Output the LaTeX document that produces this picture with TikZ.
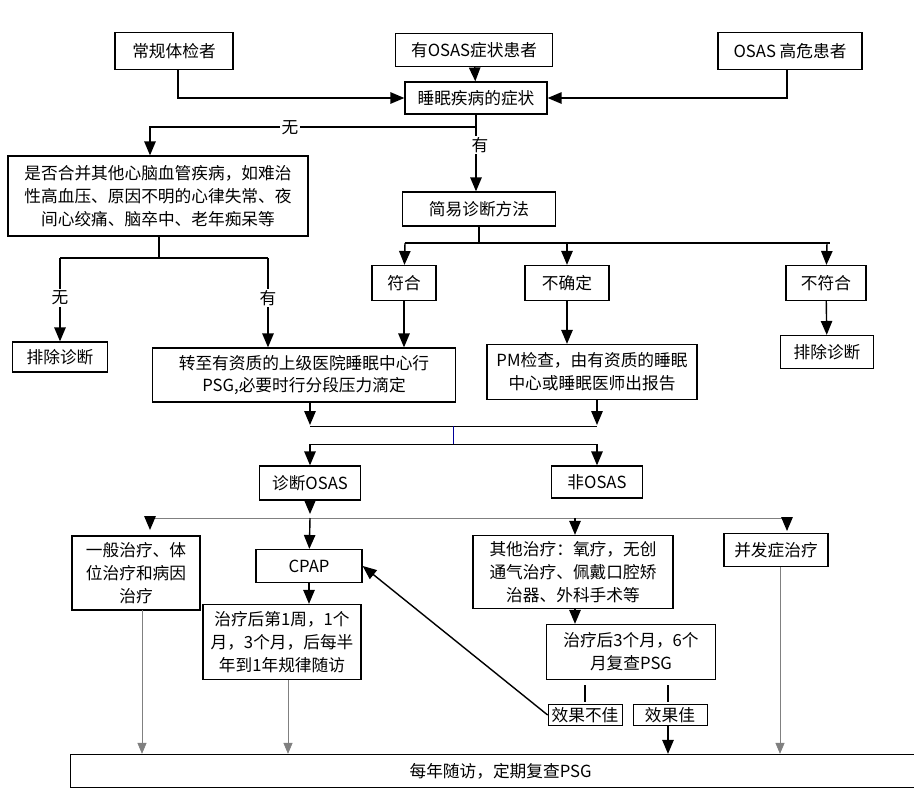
\documentclass[tikz,border=0pt]{standalone}
\usepackage{fontspec}
\setmainfont{Liberation Serif}
\newfontfamily\cjk{Noto Sans CJK SC}
\XeTeXlinebreaklocale "zh"
\XeTeXlinebreakskip=0pt plus 1pt
\usepackage{tikz}
\usetikzlibrary{arrows,positioning}

\begin{document}
\begin{tikzpicture}[x=0.02cm, y=-0.02cm, >=triangle 45, thick, font=\cjk\fontsize{9.5}{13}\selectfont]
    \tikzstyle{box}=[draw, rectangle, inner sep=2pt, align=center]
    \tikzstyle{thin box}=[draw, rectangle, inner sep=1pt, align=center, thin]
    \tikzstyle{gray line}=[draw=gray, thin]
    \tikzstyle{lbl}=[fill=white, inner sep=1pt]

    \useasboundingbox (0,0) rectangle (914,809);

    % top
    \node[box, minimum width=2.36cm, minimum height=0.74cm] (routine) at (174,51) {常规体检者};
    \node[box, minimum width=3.14cm, minimum height=0.66cm] (sympt) at (474,50) {有OSAS症状患者};
    \node[box, minimum width=2.88cm, minimum height=0.74cm] (risk) at (790,51) {OSAS 高危患者};
    \node[box, minimum width=2.84cm, minimum height=0.64cm] (sleep) at (476,98) {睡眠疾病的症状};

    \draw[->] (sympt) -- (sleep);
    \draw[->] (routine.south) ++(4,0) |- (sleep.west);
    \draw[->] (risk.south) ++(-3,0) |- (sleep.east);

    % first decision
    \node[box, minimum width=6cm, minimum height=1.6cm] (disease) at (158,196) {是否合并其他心脑血管疾病，如难治\\性高血压、原因不明的心律失常、夜\\间心绞痛、脑卒中、老年痴呆等};
    \node[box, minimum width=3.06cm, minimum height=0.68cm] (simple) at (479,209) {简易诊断方法};
    \coordinate (split1) at (476,127);
    \draw (sleep) -- (split1);
    \draw[->] (split1) -- (150,127) -- (disease.north -| 150,0);
    \node[lbl] at (290,128) {无};
    \draw[->] (split1) -- (simple.north -| split1);
    \node[lbl] at (480,145) {有};

    % left branch
    \node[box, minimum width=1.9cm, minimum height=0.6cm] (excl1) at (60,357) {排除诊断};
    \node[box, minimum width=6.06cm, minimum height=1.08cm] (refer) at (304,375) {转至有资质的上级医院睡眠中心行\\PSG,必要时行分段压力滴定};
    \draw (disease.south -| 159,0) -- (159,258);
    \draw[->] (60,258) -- (excl1);
    \draw[->] (268,258) -- (refer.north -| 268,0);
    \draw (60,258) -- (268,258);
    \node[lbl] at (60,298) {无};
    \node[lbl] at (268,298) {有};

    % simple diagnosis results
    \node[box, minimum width=1.28cm, minimum height=0.7cm] (fit) at (404,283) {符合};
    \node[box, minimum width=1.68cm, minimum height=0.7cm] (unsure) at (567,283) {不确定};
    \node[box, minimum width=1.6cm, minimum height=0.7cm] (nofit) at (826,283) {不符合};
    \node[box, minimum width=1.86cm, minimum height=0.66cm] (excl2) at (827,352) {排除诊断};
    \node[box, minimum width=4.2cm, minimum height=1.1cm] (pm) at (592,372) {PM检查，由有资质的睡眠\\中心或睡眠医师出报告};
    \draw (simple) -- (479,243);
    \draw (405,243) -- (830,243);
    \draw[->] (405,243) -- (fit);
    \draw[->] (567,243) -- (unsure);
    \draw[->] (827,243) -- (nofit);
    \draw[->] (fit) -- (refer.north -| fit);
    \draw[->] (unsure) -- (pm.north -| unsure);
    \draw[->] (nofit) -- (excl2);

    % merge
    \node[box, minimum width=2.02cm, minimum height=0.68cm] (osas) at (310,483) {诊断OSAS};
    \node[box, minimum width=1.82cm, minimum height=0.64cm] (nonosas) at (597,482) {非OSAS};
    \draw[->] (refer.south -| osas) -- (310,425);
    \draw[->] (pm.south -| nonosas) -- (597,425);
    \draw[thin] (310,426) -- (597,426);
    \draw[blue!60!black, thin] (453,426) -- (453,444);
    \draw[thin] (310,444) -- (597,444);
    \draw[->] (310,444) -- (osas);
    \draw[->] (597,444) -- (nonosas);

    % treatments
    \node[box, minimum width=2.56cm, minimum height=1.48cm] (general) at (136,573) {一般治疗、体\\位治疗和病因\\治疗};
    \node[box, minimum width=2.12cm, minimum height=0.66cm] (cpap) at (309,566) {CPAP};
    \node[box, minimum width=4cm, minimum height=1.46cm] (other) at (573,572) {其他治疗：氧疗，无创\\通气治疗、佩戴口腔矫\\治器、外科手术等};
    \node[box, minimum width=2.08cm, minimum height=0.66cm] (compl) at (776,550) {并发症治疗};
    \draw[->] (osas) -- (310,514);
    \draw[gray line] (150,518) -- (787,518);
    \draw[->] (150,518) -- (150,530);
    \draw[->] (310,518) -- (cpap);
    \draw[->] (575,518) -- (other.north -| 575,0);
    \draw[->] (787,518) -- (787,531);

    % follow up
    \node[box, minimum width=3.16cm, minimum height=1.5cm] (week) at (282,642) {治疗后第1周，1个\\月，3个月，后每半\\年到1年规律随访};
    \node[box, minimum width=3.38cm, minimum height=1.1cm] (recheck) at (631,652) {治疗后3个月，6个\\月复查PSG};
    \node[thin box, minimum width=1.48cm, minimum height=0.42cm] (bad) at (585,715) {效果不佳};
    \node[thin box, minimum width=1.48cm, minimum height=0.42cm] (good) at (670,715) {效果佳};
    \draw[->] (cpap) -- (week.north -| cpap);
    \draw[->] (other.south -| 575,0) -- (recheck.north -| 575,0);
    \draw (585,685) -- (585,702);
    \draw (668,685) -- (668,702);
    \draw[->] (bad.west) -- (cpap.east);

    % final
    \node[box, minimum width=17.2cm, minimum height=0.66cm, anchor=west] (yearly) at (70,771) {每年随访，定期复查PSG};
    \draw[->] (good.south -| 668,0) -- (yearly.north -| 668,0);
    \draw[gray line, ->] (142,610) -- (yearly.north -| 142,0);
    \draw[gray line, ->] (288,680) -- (yearly.north -| 288,0);
    \draw[gray line, ->] (compl.south -| 780,0) -- (yearly.north -| 780,0);
\end{tikzpicture}
\end{document}
